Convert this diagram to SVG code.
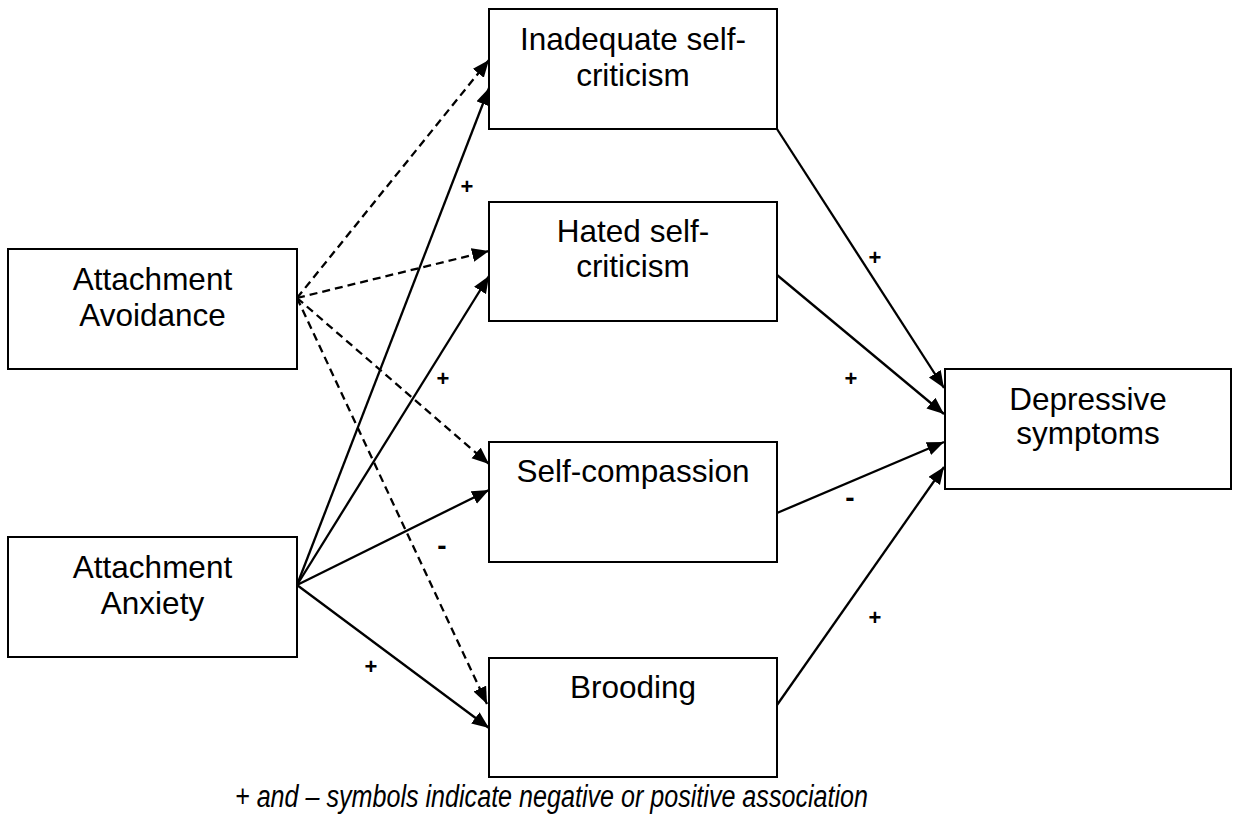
<svg xmlns="http://www.w3.org/2000/svg" width="1233" height="823" viewBox="0 0 1233 823">
<style>
.box{fill:#fff;stroke:#000;stroke-width:2}
.t{font-family:"Liberation Sans",Arial,sans-serif;font-size:31.5px;fill:#000;text-anchor:middle}
.lbl{font-family:"Liberation Sans",Arial,sans-serif;font-size:22px;font-weight:bold;fill:#000;text-anchor:middle}
.dashlbl{font-family:"Liberation Sans",Arial,sans-serif;font-size:28px;font-weight:bold;fill:#000;text-anchor:middle}
.solid{stroke:#000;stroke-width:2.3;fill:none;marker-end:url(#ah)}
.dash{stroke:#000;stroke-width:2.3;fill:none;stroke-dasharray:8,5;marker-end:url(#ah)}
.foot{font-family:"Liberation Sans",Arial,sans-serif;font-size:31px;font-style:italic;fill:#000;text-anchor:middle}
</style>
<defs>
<marker id="ah" markerUnits="userSpaceOnUse" markerWidth="18" markerHeight="15" refX="17" refY="7" orient="auto">
<path d="M0,0 L17,7 L0,14 z" fill="#000"/>
</marker>
</defs>
<rect width="1233" height="823" fill="#fff"/>
<g id="connectors">
<line class="dash" x1="297" y1="298" x2="489" y2="60"/>
<line class="dash" x1="297" y1="298" x2="489" y2="251"/>
<line class="dash" x1="297" y1="298" x2="489" y2="464"/>
<line class="dash" x1="297" y1="298" x2="487" y2="704"/>
<line class="solid" x1="297" y1="585" x2="489" y2="88"/>
<line class="solid" x1="297" y1="585" x2="489" y2="276"/>
<line class="solid" x1="297" y1="585" x2="489" y2="490"/>
<line class="solid" x1="297" y1="585" x2="489" y2="728"/>
<line class="solid" x1="777" y1="129" x2="944" y2="388"/>
<line class="solid" x1="777" y1="275" x2="944" y2="414"/>
<line class="solid" x1="777" y1="513" x2="944" y2="442"/>
<line class="solid" x1="777" y1="705" x2="944" y2="467"/>
</g>
<g id="labels">
<text class="lbl" x="467" y="194">+</text>
<text class="lbl" x="443" y="386">+</text>
<text class="dashlbl" x="442" y="555">-</text>
<text class="lbl" x="371" y="674">+</text>
<text class="lbl" x="875" y="265">+</text>
<text class="lbl" x="851" y="386">+</text>
<text class="dashlbl" x="850" y="507">-</text>
<text class="lbl" x="875" y="625">+</text>
</g>
<g id="avoidance">
<rect class="box" x="8" y="249" width="289" height="120"/>
<text class="t" x="152.5" y="290">Attachment</text>
<text class="t" x="152.5" y="326">Avoidance</text>
</g>
<g id="anxiety">
<rect class="box" x="8" y="537" width="289" height="120"/>
<text class="t" x="152.5" y="578">Attachment</text>
<text class="t" x="152.5" y="614">Anxiety</text>
</g>
<g id="inadequate">
<rect class="box" x="489" y="9" width="288" height="120"/>
<text class="t" x="633" y="50">Inadequate self-</text>
<text class="t" x="633" y="86">criticism</text>
</g>
<g id="hated">
<rect class="box" x="489" y="202" width="288" height="119"/>
<text class="t" x="633" y="242">Hated self-</text>
<text class="t" x="633" y="277">criticism</text>
</g>
<g id="selfcompassion">
<rect class="box" x="489" y="442" width="288" height="120"/>
<text class="t" x="633" y="482">Self-compassion</text>
</g>
<g id="brooding">
<rect class="box" x="489" y="658" width="288" height="119"/>
<text class="t" x="633" y="698">Brooding</text>
</g>
<g id="depressive">
<rect class="box" x="945" y="369" width="286" height="120"/>
<text class="t" x="1088" y="410">Depressive</text>
<text class="t" x="1088" y="444">symptoms</text>
</g>
<text class="foot" x="551.5" y="807" textLength="633" lengthAdjust="spacingAndGlyphs">+ and – symbols indicate negative or positive association</text>
</svg>
